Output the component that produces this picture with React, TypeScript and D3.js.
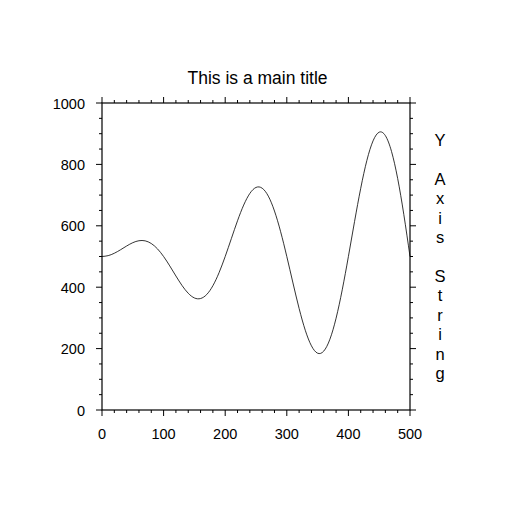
import React from "react";
import * as d3 from "d3";

const xValues = [0,10,20,30,40,50,60,70,80,90,100,110,120,130,140,150,160,170,180,190,200,210,220,230,240,250,260,270,280,290,300,310,320,330,340,350,360,370,380,390,400,410,420,430,440,450,460,470,480,490,500];
const yValues = [500,502.8,510.6,521.8,534.2,545,551.4,551.0,542.3,525.0,500,469.4,436.5,405.3,380.2,365,363.1,376.2,404.8,447.2,500,558.4,616.4,667.5,705.4,725,722.5,696.6,648.1,580.7,500,413.8,330.7,259.7,209.0,185,191.9,230.6,299.0,391.5,500,614.0,722.2,813.1,876.6,905,893.7,842.2,753.9,636.3,500];
const xTicks = [0,100,200,300,400,500];
const yTicks = [0,200,400,600,800,1000];
const title = "This is a main title";
const rightLabel = "Y Axis String";

export default function App() {
  const W = 514, H = 514;
  const left = 102, right = 410, top = 103, bottom = 410;
  const x = d3.scaleLinear().domain([0, 500]).range([left, right]);
  const y = d3.scaleLinear().domain([0, 1000]).range([bottom, top]);
  const line = d3.line<number>().x((_, i) => x(xValues[i])).y(d => y(d)).curve(d3.curveNatural);
  const xMinor = d3.range(0, 501, 20).filter(v => v % 100 !== 0);
  const yMinor = d3.range(0, 1001, 50).filter(v => v % 200 !== 0);
  const font = "Liberation Sans, Arial, Helvetica, sans-serif";
  const chars = rightLabel.split("");
  const step = 19.4;
  const midY = (top + bottom) / 2;
  return (
    <svg width={W} height={H} style={{ position: "absolute", left: 0, top: 0 }} fontFamily={font}>
      <rect width={W} height={H} fill="white" />
      <text x={257.5} y={84} fontSize={17.5} textAnchor="middle" fill="black">{title}</text>
      <path d={line(yValues) || ""} fill="none" stroke="black" strokeWidth={0.8} />
      <rect x={left} y={top} width={right - left} height={bottom - top} fill="none" stroke="black" strokeWidth={1.2} />
      <g stroke="black" strokeWidth={1}>
        {xTicks.map(v => (
          <g key={"xt" + v}>
            <line x1={x(v)} x2={x(v)} y1={bottom} y2={bottom + 6} />
            <line x1={x(v)} x2={x(v)} y1={top} y2={top - 6} />
          </g>
        ))}
        {xMinor.map(v => (
          <g key={"xm" + v}>
            <line x1={x(v)} x2={x(v)} y1={bottom} y2={bottom + 3} />
            <line x1={x(v)} x2={x(v)} y1={top} y2={top - 3} />
          </g>
        ))}
        {yTicks.map(v => (
          <g key={"yt" + v}>
            <line x1={left} x2={left - 6} y1={y(v)} y2={y(v)} />
            <line x1={right} x2={right + 6} y1={y(v)} y2={y(v)} />
          </g>
        ))}
        {yMinor.map(v => (
          <g key={"ym" + v}>
            <line x1={left} x2={left - 3} y1={y(v)} y2={y(v)} />
            <line x1={right} x2={right + 3} y1={y(v)} y2={y(v)} />
          </g>
        ))}
      </g>
      {xTicks.map(v => (
        <text key={"xl" + v} x={x(v)} y={bottom + 29} fontSize={14.5} textAnchor="middle" fill="black">{v}</text>
      ))}
      {yTicks.map(v => (
        <text key={"yl" + v} x={left - 17} y={y(v) + 5.5} fontSize={14.5} textAnchor="end" fill="black">{v}</text>
      ))}
      {chars.map((c, i) => (
        <text key={"c" + i} x={440} y={midY + (i - (chars.length - 1) / 2) * step + 6} fontSize={16.5} textAnchor="middle" fill="black">{c}</text>
      ))}
    </svg>
  );
}
